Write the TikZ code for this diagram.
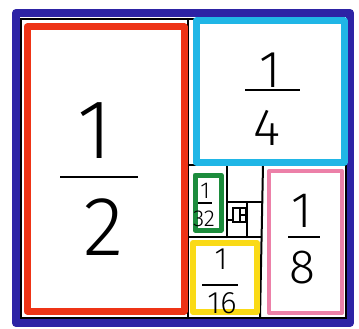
\documentclass[tikz,border=0pt]{standalone}
\usepackage{fontspec}
\setmainfont{Fira Sans}[UprightFont={* Light}]
\usetikzlibrary{positioning}
\definecolor{frameblue}{RGB}{45,35,165}
\definecolor{halfred}{RGB}{238,52,22}
\definecolor{quartcyan}{RGB}{32,182,230}
\definecolor{eightpink}{RGB}{236,128,168}
\definecolor{sixtyellow}{RGB}{250,218,22}
\definecolor{thirtygreen}{RGB}{28,140,60}

\begin{document}
\begin{tikzpicture}[x=1pt,y=-1pt,
  divider/.style={black, line width=2pt, line cap=round},
  piece/.style={line width=#1, line join=round},
  digit/.style={inner sep=0pt, text=black}]

\useasboundingbox[fill=white] (0,0) rectangle (359,329);

%---------------------------------------
% Outer frame
%---------------------------------------
\draw[piece=8pt, frameblue] (16,13) rectangle (350,323);
\draw[divider] (21,19) rectangle (346,318);

% Dividing lines (halving again and again)
\draw[divider] (188,19) -- (188,318);
\draw[divider] (188,165) -- (346,165);
\draw[divider] (263,165) -- (260,318);
\draw[divider] (188,237) -- (261,237);
\draw[divider] (227,165) -- (227,237);
\draw[divider] (227,202) -- (262,202);
\draw[divider] (247,202) -- (247,237);

% tiny scribbled pieces
\draw[black, line width=1.2pt] (233,208) rectangle (246,222);
\draw[black, line width=1.2pt] (240,208) -- (240,222);
\draw[black, line width=1.2pt] (240,215) -- (246,215);
\draw[black, line width=1.2pt] (228,220) -- (233,220);

%---------------------------------------
% Coloured pieces
%---------------------------------------
\draw[piece=7pt, halfred]     (27,27)   rectangle (184,311);
\draw[piece=7pt, quartcyan]   (196,21)  rectangle (344,162);
\draw[piece=4pt, eightpink]   (269,171) rectangle (342,313);
\draw[piece=6pt, sixtyellow]  (193,243) rectangle (257,312);
\draw[piece=5pt, thirtygreen] (195,175) rectangle (221,230);

%---------------------------------------
% Fractions
%---------------------------------------
% 1/2
\node[digit, font=\fontsize{84}{84}\selectfont] (halfnum) at (95,131) {1};
\node[digit, font=\fontsize{84}{84}\selectfont] (halfden) at (104,227) {2};
\draw[line width=2pt] (60,177) -- (138,177);

% 1/4
\node[digit, font=\fontsize{52}{52}\selectfont] (quartnum) at (270,70) {1};
\node[digit, font=\fontsize{52}{52}\selectfont] (quartden) at (267,128) {4};
\draw[line width=2pt] (245,90) -- (300,90);

% 1/8
\node[digit, font=\fontsize{50}{50}\selectfont] (eightnum) at (302,211) {1};
\node[digit, font=\fontsize{48}{48}\selectfont] (eightden) at (302,268) {8};
\draw[line width=2pt] (288,237) -- (320,237);

% 1/16
\node[digit, font=\fontsize{31}{31}\selectfont] (sixtnum) at (221,259) {1};
\node[digit, font=\fontsize{31}{31}\selectfont] (sixtden) at (222,303) {16};
\draw[line width=1.6pt] (202,285) -- (238,285);

% 1/32
\node[digit, font=\fontsize{23}{23}\selectfont] (thirtnum) at (205,191) {1};
\node[digit, font=\fontsize{23}{23}\selectfont] (thirtden) at (204,219) {32};
\draw[line width=1.3pt] (198,203) -- (212,203);

\end{tikzpicture}
\end{document}
